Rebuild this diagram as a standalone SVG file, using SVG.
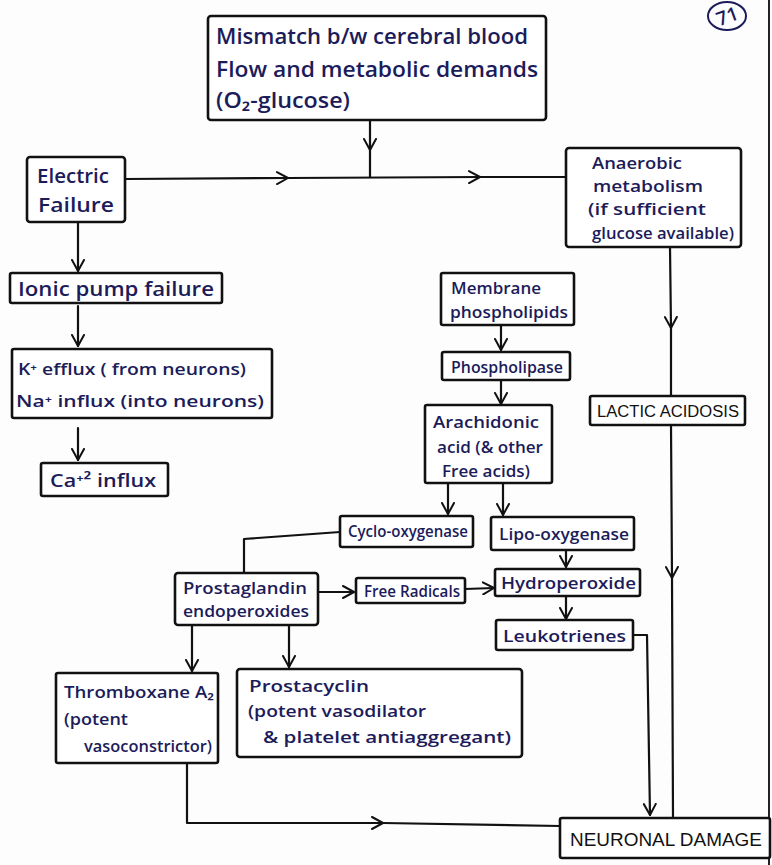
<svg xmlns="http://www.w3.org/2000/svg" width="772" height="865" viewBox="0 0 772 865">
  <defs>
    <marker id="arr" viewBox="0 0 14 14" refX="12" refY="7" markerWidth="14" markerHeight="14" markerUnits="userSpaceOnUse" orient="auto">
      <path d="M1,1 L12,7 L1,13" fill="none" stroke="#111" stroke-width="2" stroke-linecap="round" stroke-linejoin="round"/>
    </marker>
    <style>
      .box { fill: #fff; stroke: #111; stroke-width: 2.6; }
      .hw { font-family: "Open Sans", "Liberation Sans", sans-serif; font-weight: 600; fill: #1c1c5a; }
      .caps { font-family: "Liberation Sans", "DejaVu Sans", sans-serif; font-weight: 400; fill: #111; }
      .ln { fill: none; stroke: #111; stroke-width: 2.2; stroke-linecap: round; stroke-linejoin: round; }
    </style>
  </defs>

  <rect x="0" y="0" width="772" height="865" fill="#fdfdfd"/>
  <line x1="769" y1="0" x2="769" y2="865" stroke="#222" stroke-width="2"/>

  <!-- page number -->
  <g id="page-number">
    <ellipse cx="727" cy="16" rx="19" ry="14" fill="none" stroke="#1c1c5a" stroke-width="2"/>
    <text x="727" y="23" class="hw" font-size="19" text-anchor="middle" transform="rotate(-20 727 16)">71</text>
  </g>

  <!-- connectors -->
  <g id="connectors">
    <!-- mismatch down to main horizontal -->
    <path class="ln" d="M370,120 L370,150" marker-end="url(#arr)"/>
    <path class="ln" d="M370,150 L370,177"/>
    <!-- electric failure to anaerobic -->
    <path class="ln" d="M125,179 L288,178" marker-end="url(#arr)"/>
    <path class="ln" d="M288,178 L480,177" marker-end="url(#arr)"/>
    <path class="ln" d="M480,177 L565,177"/>
    <!-- anaerobic down to lactic acidosis and neuronal damage -->
    <path class="ln" d="M670,247 L671,328" marker-end="url(#arr)"/>
    <path class="ln" d="M671,328 L671,396"/>
    <path class="ln" d="M671,425 L672,578" marker-end="url(#arr)"/>
    <path class="ln" d="M672,578 L673,817"/>
    <!-- left column -->
    <path class="ln" d="M78,222 L78,271" marker-end="url(#arr)"/>
    <path class="ln" d="M78,306 L78,346" marker-end="url(#arr)"/>
    <path class="ln" d="M78,428 L78,460" marker-end="url(#arr)"/>
    <!-- arachidonic pathway -->
    <path class="ln" d="M501,325 L501,350" marker-end="url(#arr)"/>
    <path class="ln" d="M501,380 L501,404" marker-end="url(#arr)"/>
    <path class="ln" d="M448,483 L448,514" marker-end="url(#arr)"/>
    <path class="ln" d="M503,483 L503,515" marker-end="url(#arr)"/>
    <path class="ln" d="M566,550 L566,567" marker-end="url(#arr)"/>
    <path class="ln" d="M566,595 L566,619" marker-end="url(#arr)"/>
    <!-- leukotrienes to neuronal damage -->
    <path class="ln" d="M633,635 L647,635 L650,815" marker-end="url(#arr)"/>
    <!-- cyclo-oxygenase to prostaglandin -->
    <path class="ln" d="M340,532 L244,539 L244,573"/>
    <!-- prostaglandin to free radicals to hydroperoxide -->
    <path class="ln" d="M318,592 L354,592" marker-end="url(#arr)"/>
    <path class="ln" d="M465,589 L494,588" marker-end="url(#arr)"/>
    <!-- prostaglandin to thromboxane and prostacyclin -->
    <path class="ln" d="M192,625 L192,671" marker-end="url(#arr)"/>
    <path class="ln" d="M289,625 L289,667" marker-end="url(#arr)"/>
    <!-- thromboxane to neuronal damage -->
    <path class="ln" d="M187,763 L187,823 L383,823" marker-end="url(#arr)"/>
    <path class="ln" d="M383,823 L560,826"/>
  </g>

  <g id="mismatch">
    <rect class="box" x="208" y="16" width="338" height="104" rx="3"/>
    <text class="hw" font-size="21" x="216" y="44" textLength="312" lengthAdjust="spacingAndGlyphs">Mismatch b/w cerebral blood</text>
    <text class="hw" font-size="21" x="216" y="77" textLength="322" lengthAdjust="spacingAndGlyphs">Flow and metabolic demands</text>
    <text class="hw" font-size="21" x="216" y="108" textLength="134" lengthAdjust="spacingAndGlyphs">(O₂-glucose)</text>
  </g>

  <g id="electric-failure">
    <rect class="box" x="27" y="157" width="98" height="65" rx="3"/>
    <text class="hw" font-size="19" x="37" y="183" textLength="72" lengthAdjust="spacingAndGlyphs">Electric</text>
    <text class="hw" font-size="19" x="38" y="212" textLength="76" lengthAdjust="spacingAndGlyphs">Failure</text>
  </g>

  <g id="anaerobic">
    <rect class="box" x="566" y="148" width="175" height="99" rx="3"/>
    <text class="hw" font-size="17" x="592" y="169" textLength="90" lengthAdjust="spacingAndGlyphs">Anaerobic</text>
    <text class="hw" font-size="17" x="593" y="192" textLength="110" lengthAdjust="spacingAndGlyphs">metabolism</text>
    <text class="hw" font-size="17" x="588" y="215" textLength="118" lengthAdjust="spacingAndGlyphs">(if sufficient</text>
    <text class="hw" font-size="17" x="592" y="239" textLength="142" lengthAdjust="spacingAndGlyphs">glucose available)</text>
  </g>

  <g id="ionic-pump">
    <rect class="box" x="10" y="273" width="212" height="30" rx="2"/>
    <text class="hw" font-size="19" x="18" y="296" textLength="196" lengthAdjust="spacingAndGlyphs">Ionic pump failure</text>
  </g>

  <g id="ion-flux">
    <rect class="box" x="12" y="349" width="260" height="69" rx="2"/>
    <text class="hw" font-size="16" x="18" y="375" textLength="228" lengthAdjust="spacingAndGlyphs">K⁺ efflux ( from neurons)</text>
    <text class="hw" font-size="17" x="16" y="407" textLength="248" lengthAdjust="spacingAndGlyphs">Na⁺ influx (into neurons)</text>
  </g>

  <g id="calcium">
    <rect class="box" x="41" y="463" width="127" height="33" rx="2"/>
    <text class="hw" font-size="18" x="50" y="487" textLength="106" lengthAdjust="spacingAndGlyphs">Ca⁺² influx</text>
  </g>

  <g id="membrane">
    <rect class="box" x="441" y="273" width="133" height="52" rx="2"/>
    <text class="hw" font-size="17" x="451" y="294" textLength="90" lengthAdjust="spacingAndGlyphs">Membrane</text>
    <text class="hw" font-size="17" x="450" y="318" textLength="118" lengthAdjust="spacingAndGlyphs">phospholipids</text>
  </g>

  <g id="phospholipase">
    <rect class="box" x="442" y="352" width="128" height="28" rx="2"/>
    <text class="hw" font-size="17" x="451" y="373" textLength="112" lengthAdjust="spacingAndGlyphs">Phospholipase</text>
  </g>

  <g id="arachidonic">
    <rect class="box" x="425" y="405" width="127" height="78" rx="2"/>
    <text class="hw" font-size="17" x="433" y="428" textLength="106" lengthAdjust="spacingAndGlyphs">Arachidonic</text>
    <text class="hw" font-size="17" x="437" y="453" textLength="106" lengthAdjust="spacingAndGlyphs">acid (&amp; other</text>
    <text class="hw" font-size="17" x="442" y="477" textLength="88" lengthAdjust="spacingAndGlyphs">Free acids)</text>
  </g>

  <g id="lactic-acidosis">
    <rect class="box" x="590" y="396" width="155" height="29" rx="2"/>
    <text class="caps" font-size="16" x="597" y="417" textLength="142" lengthAdjust="spacingAndGlyphs">LACTIC ACIDOSIS</text>
  </g>

  <g id="cyclo-oxygenase">
    <rect class="box" x="340" y="516" width="133" height="31" rx="2"/>
    <text class="hw" font-size="16" x="348" y="537" textLength="120" lengthAdjust="spacingAndGlyphs">Cyclo-oxygenase</text>
  </g>

  <g id="lipo-oxygenase">
    <rect class="box" x="491" y="517" width="143" height="33" rx="2"/>
    <text class="hw" font-size="17" x="499" y="540" textLength="130" lengthAdjust="spacingAndGlyphs">Lipo-oxygenase</text>
  </g>

  <g id="prostaglandin">
    <rect class="box" x="175" y="573" width="143" height="52" rx="3"/>
    <text class="hw" font-size="17" x="183" y="594" textLength="124" lengthAdjust="spacingAndGlyphs">Prostaglandin</text>
    <text class="hw" font-size="17" x="183" y="617" textLength="126" lengthAdjust="spacingAndGlyphs">endoperoxides</text>
  </g>

  <g id="free-radicals">
    <rect class="box" x="356" y="578" width="109" height="25" rx="2"/>
    <text class="hw" font-size="16" x="364" y="597" textLength="96" lengthAdjust="spacingAndGlyphs">Free Radicals</text>
  </g>

  <g id="hydroperoxide">
    <rect class="box" x="495" y="569" width="145" height="27" rx="2"/>
    <text class="hw" font-size="17" x="501" y="589" textLength="135" lengthAdjust="spacingAndGlyphs">Hydroperoxide</text>
  </g>

  <g id="leukotrienes">
    <rect class="box" x="496" y="620" width="137" height="30" rx="2"/>
    <text class="hw" font-size="17" x="503" y="642" textLength="123" lengthAdjust="spacingAndGlyphs">Leukotrienes</text>
  </g>

  <g id="thromboxane">
    <rect class="box" x="56" y="673" width="162" height="90" rx="2"/>
    <text class="hw" font-size="17" x="64" y="698" textLength="150" lengthAdjust="spacingAndGlyphs">Thromboxane A₂</text>
    <text class="hw" font-size="17" x="64" y="725" textLength="64" lengthAdjust="spacingAndGlyphs">(potent</text>
    <text class="hw" font-size="17" x="84" y="752" textLength="128" lengthAdjust="spacingAndGlyphs">vasoconstrictor)</text>
  </g>

  <g id="prostacyclin">
    <rect class="box" x="237" y="669" width="285" height="88" rx="3"/>
    <text class="hw" font-size="17" x="249" y="692" textLength="120" lengthAdjust="spacingAndGlyphs">Prostacyclin</text>
    <text class="hw" font-size="17" x="248" y="717" textLength="178" lengthAdjust="spacingAndGlyphs">(potent vasodilator</text>
    <text class="hw" font-size="17" x="263" y="743" textLength="248" lengthAdjust="spacingAndGlyphs">&amp; platelet antiaggregant)</text>
  </g>

  <g id="neuronal-damage">
    <rect class="box" x="560" y="818" width="210" height="40" rx="2"/>
    <text class="caps" font-size="19" x="570" y="846" textLength="192" lengthAdjust="spacingAndGlyphs">NEURONAL DAMAGE</text>
  </g>
</svg>
